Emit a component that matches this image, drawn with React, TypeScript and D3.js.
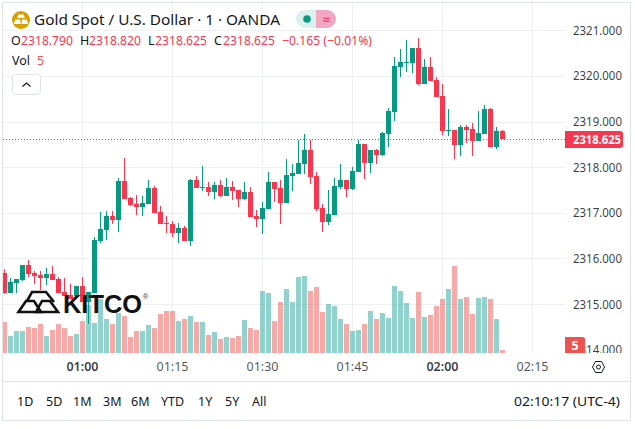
import React from "react";
import * as d3 from "d3";

const opens = [2315.68,2315.25,2315.47,2315.53,2315.86,2315.68,2315.64,2315.57,2315.66,2315.55,2315.27,2315.20,2315.18,2315.40,2315.05,2315.25,2316.39,2316.63,2316.93,2316.85,2317.70,2317.33,2317.20,2317.13,2317.20,2317.55,2317.02,2316.78,2316.76,2316.56,2316.67,2316.39,2317.72,2317.55,2317.57,2317.46,2317.61,2317.37,2317.57,2317.50,2317.31,2317.46,2316.93,2316.87,2317.09,2317.68,2317.55,2317.22,2317.81,2317.85,2318.07,2318.38,2317.81,2317.11,2316.80,2316.96,2317.57,2317.72,2317.52,2317.90,2318.51,2318.10,2318.38,2318.27,2318.73,2319.21,2320.20,2320.29,2320.29,2320.61,2319.82,2320.20,2319.91,2319.56,2318.80,2318.82,2318.49,2318.88,2318.84,2318.58,2318.73,2319.28,2318.44,2318.79];
const highs = [2315.77,2315.57,2315.55,2315.86,2315.97,2315.73,2315.73,2315.79,2315.84,2315.60,2315.57,2315.44,2315.40,2315.60,2315.27,2316.47,2317.02,2317.04,2317.04,2317.77,2318.20,2317.35,2317.39,2317.37,2317.72,2317.59,2317.15,2316.93,2316.82,2316.78,2316.72,2317.74,2317.81,2318.03,2317.68,2317.68,2317.72,2317.77,2317.70,2317.50,2317.68,2317.57,2317.07,2317.24,2317.90,2317.68,2317.72,2318.18,2318.07,2318.60,2318.73,2318.60,2317.90,2317.20,2317.50,2317.77,2318.07,2317.72,2318.01,2318.60,2318.51,2318.38,2318.40,2318.77,2319.30,2320.42,2320.59,2320.79,2320.61,2320.83,2320.37,2320.42,2319.98,2319.82,2319.28,2318.82,2318.93,2318.93,2318.97,2319.23,2319.37,2319.30,2318.88,2318.82];
const lows = [2315.23,2315.25,2315.25,2315.51,2315.60,2315.44,2315.31,2315.42,2315.53,2315.25,2315.18,2315.12,2315.12,2315.05,2314.57,2315.25,2316.34,2316.41,2316.76,2316.58,2317.31,2317.15,2316.96,2316.93,2317.20,2317.00,2316.76,2316.56,2316.47,2316.34,2316.39,2316.28,2317.55,2317.48,2317.37,2317.31,2317.35,2317.37,2317.28,2317.13,2317.28,2316.91,2316.69,2316.54,2317.09,2317.24,2316.76,2317.22,2317.48,2317.85,2317.85,2317.64,2317.04,2316.58,2316.74,2316.96,2317.52,2317.35,2317.50,2317.90,2317.74,2317.88,2318.07,2318.25,2318.44,2319.01,2319.98,2320.09,2320.07,2319.80,2319.82,2319.89,2319.54,2318.71,2318.69,2318.18,2318.25,2318.53,2318.25,2318.58,2318.73,2318.44,2318.40,2318.625];
const closes = [2315.25,2315.49,2315.55,2315.86,2315.66,2315.62,2315.57,2315.66,2315.53,2315.25,2315.18,2315.12,2315.40,2315.05,2315.27,2316.41,2316.65,2316.93,2316.85,2317.70,2317.31,2317.17,2317.13,2317.22,2317.55,2317.00,2316.76,2316.76,2316.56,2316.67,2316.39,2317.72,2317.55,2317.57,2317.46,2317.61,2317.37,2317.57,2317.48,2317.31,2317.46,2316.91,2316.87,2317.11,2317.68,2317.52,2317.22,2317.83,2317.88,2318.10,2318.38,2317.79,2317.09,2316.80,2316.98,2317.59,2317.72,2317.52,2317.92,2318.51,2318.10,2318.38,2318.27,2318.75,2319.23,2320.22,2320.31,2320.31,2320.61,2319.82,2320.20,2319.89,2319.54,2318.80,2318.82,2318.49,2318.88,2318.82,2318.58,2318.75,2319.28,2318.44,2318.80,2318.625];
const volumes = [52,28,37,37,43,42,48,28,38,48,42,28,32,53,80,50,90,57,48,67,62,27,37,37,47,42,65,70,70,53,57,62,52,52,30,35,23,27,25,28,55,42,38,103,100,53,85,107,85,127,128,103,110,68,82,78,57,48,37,38,48,70,57,67,58,112,103,83,58,102,60,63,78,90,107,145,90,93,65,92,93,90,57,5];

const priceTicks = [2321, 2320, 2319, 2318, 2317, 2316, 2315, 2314];
const timeTicks = [
  { label: "01:00", bar: 13, bold: true },
  { label: "01:15", bar: 28, bold: false },
  { label: "01:30", bar: 43, bold: false },
  { label: "01:45", bar: 58, bold: false },
  { label: "02:00", bar: 73, bold: true },
  { label: "02:15", bar: 88, bold: false },
];
const ranges = ["1D", "5D", "1M", "3M", "6M", "YTD", "1Y", "5Y", "All"];
const rangeX = [17, 46, 73, 103, 131, 161, 198, 225, 252];
const lastPrice = 2318.625;

const UP = "#089981";
const DOWN = "#f7374f";
const VOL_UP = "#26a69a";
const VOL_DOWN = "#ef5350";
const GRID = "#eef0f4";
const TEXT = "#131722";
const FONT = "'Noto Sans', sans-serif";

const x = d3.scaleLinear().domain([0, 88]).range([4.5, 532.5]);
const y = d3.scaleLinear().domain([2315, 2321]).range([304.1, 30.3]);
const yVol = d3.scaleLinear().domain([0, 100]).range([353, 293]);

export default function App() {
  document.body.style.margin = "0";
  const bw = 5;
  const lastY = y(lastPrice);
  return (
    <svg width={635} height={429} style={{ position: "absolute", left: 0, top: 0, fontFamily: FONT }}>
      <defs>
        <clipPath id="pane"><rect x={3} y={3} width={562} height={350} /></clipPath>
        <clipPath id="axis"><rect x={585} y={3} width={45} height={350} /><rect x={565} y={3} width={65} height={334} /></clipPath>
      </defs>
      <rect width={635} height={429} fill="#fff" />

      <g shapeRendering="crispEdges" stroke={GRID}>
        {priceTicks.slice(0, 7).map((p) => <line key={p} x1={3} x2={565} y1={Math.round(y(p)) + 0.5} y2={Math.round(y(p)) + 0.5} />)}
        {timeTicks.map((t) => <line key={t.label} x1={Math.floor(x(t.bar)) + 0.5} x2={Math.floor(x(t.bar)) + 0.5} y1={3} y2={353} />)}
      </g>

      <g clipPath="url(#pane)" shapeRendering="crispEdges">
        {volumes.map((v, i) => (
          <rect key={i} x={x(i) - bw / 2} width={bw} y={yVol(v)} height={353 - yVol(v)}
            fill={closes[i] >= opens[i] ? VOL_UP : VOL_DOWN} fillOpacity={0.5} />
        ))}
        {opens.map((o, i) => {
          const c = closes[i];
          const col = c >= o ? UP : DOWN;
          const top = Math.round(y(Math.max(o, c)));
          const bot = Math.round(y(Math.min(o, c)));
          return (
            <g key={i} fill={col}>
              <rect x={x(i) - 0.5} width={1} y={Math.round(y(highs[i]))} height={Math.round(y(lows[i])) - Math.round(y(highs[i]))} />
              <rect x={x(i) - bw / 2} width={bw} y={top} height={Math.max(1, bot - top)} />
            </g>
          );
        })}
      </g>

      {/* Kitco logo */}
      <g fill="none" stroke="#111" strokeWidth={2.6} strokeLinejoin="miter">
        <path d="M27 301 L32 292 L46 292 L54 302" />
        <path d="M18.5 312 L26 301 L34 301 L41 312 Z" />
        <path d="M36 312 L42 301 L50 301 L58 312 Z" />
      </g>
      <text x={63} y={312.5} fontFamily="'Liberation Sans', sans-serif" fontWeight={700} fontSize={26} fill="#111" textLength={79} lengthAdjust="spacingAndGlyphs">KITCO</text>
      <text x={142.5} y={299} fontFamily="'Liberation Sans', sans-serif" fontSize={8} fill="#444">®</text>

      <line x1={3} x2={565} y1={Math.round(lastY) + 0.5} y2={Math.round(lastY) + 0.5} stroke={DOWN} strokeDasharray="1 2" shapeRendering="crispEdges" />

      {/* price axis */}
      <g clipPath="url(#axis)" fontSize={12.5} fill={TEXT} fillOpacity={0.85}>
        {priceTicks.map((p) => <text key={p} x={573} y={y(p) + 4.5} textLength={49} lengthAdjust="spacingAndGlyphs">{p.toFixed(3)}</text>)}
      </g>
      <path d="M565 131 H620 a3 3 0 0 1 3 3 V145 a3 3 0 0 1 -3 3 H565 Z" fill={DOWN} />
      <text x={573} y={144} fontSize={12.5} fontWeight={700} fill="#fff" textLength={48} lengthAdjust="spacingAndGlyphs">{lastPrice.toFixed(3)}</text>
      <path d="M565 337 H583 a2 2 0 0 1 2 2 V353 H565 Z" fill="#ef5350" />
      <text x={575} y={350} fontSize={12.5} fontWeight={700} fill="#fff" textAnchor="middle">{volumes[volumes.length - 1]}</text>

      {/* time axis */}
      <g fontSize={12.5} fill={TEXT} textAnchor="middle">
        {timeTicks.map((t) => <text key={t.label} x={x(t.bar)} y={371} fontWeight={t.bold ? 600 : 400} fillOpacity={t.bold ? 0.85 : 0.75}>{t.label}</text>)}
      </g>
      <path d="M592.5 367 L595.5 361.5 L601.5 361.5 L604.5 367 L601.5 372.5 L595.5 372.5 Z" fill="none" stroke={TEXT} />
      <circle cx={598.5} cy={367} r={2} fill="none" stroke={TEXT} />

      {/* frame */}
      <g stroke="#e0e3eb" shapeRendering="crispEdges" fill="none">
        <rect x={2.5} y={2.5} width={628} height={418} strokeWidth={1} />
        <line x1={3} x2={630} y1={381.5} y2={381.5} />
      </g>

      {/* bottom bar */}
      <g fontSize={12.5} fill={TEXT}>
        {ranges.map((r, i) => <text key={r} x={rangeX[i]} y={406}>{r}</text>)}
        <text x={514} y={406} textLength={106} lengthAdjust="spacingAndGlyphs">02:10:17 (UTC-4)</text>
      </g>

      {/* legend */}
      <circle cx={21} cy={20} r={9} fill="#d79f00" />
      <path d="M18.5 14.5 H23.5 L25 18 H17 Z M13.5 24 L15.5 19.5 H20 L21 24 Z M21.5 24 L22 19.5 H26.5 L28.5 24 Z" fill="#fff" />
      <text x={34} y={25} fontSize={15} fill={TEXT} textLength={246} lengthAdjust="spacingAndGlyphs">Gold Spot / U.S. Dollar · 1 · OANDA</text>
      <path d="M316 10 H305 a9 9 0 0 0 0 18 H316 Z" fill="#daf1ee" />
      <path d="M316 10 H327 a9 9 0 0 1 0 18 H316 Z" fill="#f3a6c0" />
      <circle cx={307} cy={19} r={3.8} fill={UP} />
      <text x={326} y={24} fontSize={13} fill="#e91e63" textAnchor="middle">≈</text>

      <g fontSize={12.5} fill={DOWN}>
        <text x={11} y={45} fill={TEXT}>O</text><text x={21} y={45} textLength={52} lengthAdjust="spacingAndGlyphs">2318.790</text>
        <text x={80} y={45} fill={TEXT}>H</text><text x={89} y={45} textLength={52} lengthAdjust="spacingAndGlyphs">2318.820</text>
        <text x={148} y={45} fill={TEXT}>L</text><text x={155} y={45} textLength={52} lengthAdjust="spacingAndGlyphs">2318.625</text>
        <text x={214} y={45} fill={TEXT}>C</text><text x={223} y={45} textLength={52} lengthAdjust="spacingAndGlyphs">2318.625</text>
        <text x={282} y={45} textLength={90} lengthAdjust="spacingAndGlyphs">−0.165 (−0.01%)</text>
        <text x={12} y={65} fill={TEXT}>Vol</text><text x={37} y={65} fill="#ef5350">5</text>
      </g>
      <rect x={12.5} y={74.5} width={28} height={20} rx={3} fill="#fff" stroke="#e0e3eb" />
      <path d="M22.5 86.5 L26.5 83 L30.5 86.5" fill="none" stroke={TEXT} strokeWidth={1.2} />
    </svg>
  );
}
